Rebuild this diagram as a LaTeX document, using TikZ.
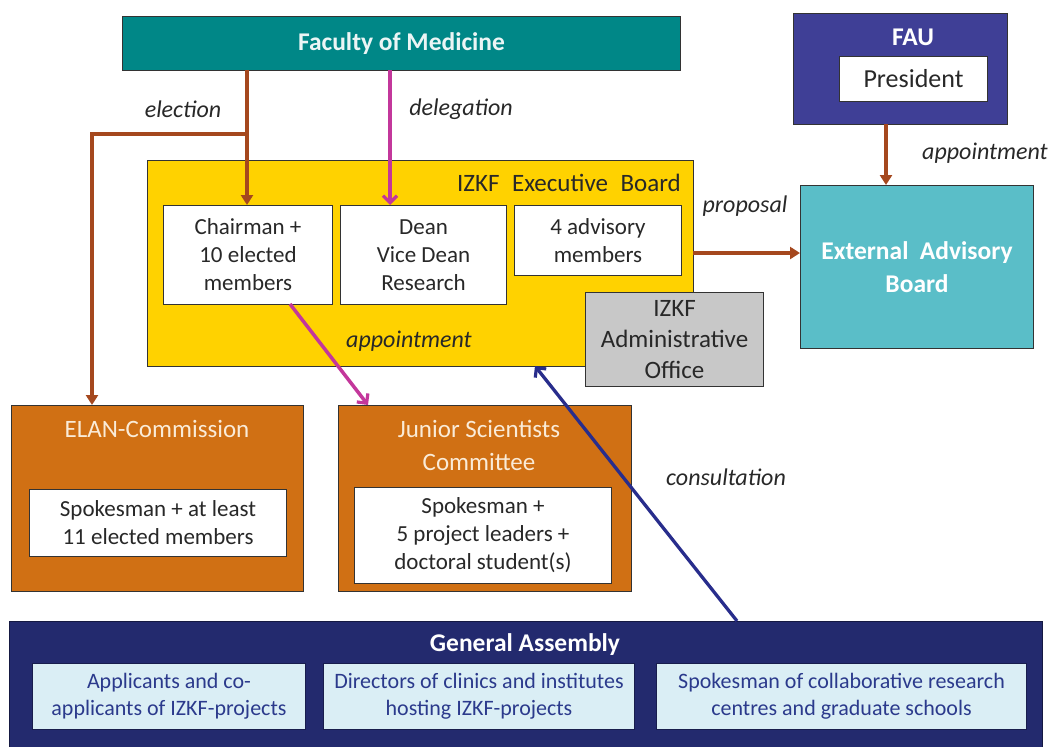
\documentclass[tikz,border=0pt]{standalone}
\usepackage{fontspec}
\setmainfont{Carlito}
\usetikzlibrary{arrows.meta}
\definecolor{teal1}{RGB}{0,135,135}
\definecolor{fau}{RGB}{63,63,150}
\definecolor{extb}{RGB}{90,190,200}
\definecolor{gold}{RGB}{255,210,0}
\definecolor{orng}{RGB}{208,112,20}
\definecolor{navy}{RGB}{35,42,110}
\definecolor{lblue}{RGB}{218,238,245}
\definecolor{gtxt}{RGB}{43,58,140}
\definecolor{brn}{RGB}{165,72,30}
\definecolor{mag}{RGB}{195,55,155}
\definecolor{cons}{RGB}{40,45,140}
\definecolor{greyb}{RGB}{200,200,200}
\definecolor{txt}{RGB}{40,40,40}
\definecolor{ttl}{RGB}{250,235,215}
\tikzset{
  x=1pt,y=-1pt,
  frame/.style={draw=black!80, line width=1pt, anchor=north west, inner sep=0pt, align=center},
  wbox/.style={frame, fill=white, text=txt, font=\fontsize{23}{28}\selectfont},
  gbox/.style={frame, draw=navy!70!black, fill=lblue, text=gtxt, font=\fontsize{22}{27}\selectfont},
  lbl/.style={font=\fontsize{24}{26}\selectfont\itshape, text=txt, inner sep=0pt},
  ttlfont/.style={font=\fontsize{25.5}{33}\selectfont\bfseries},
  brarrow/.style={draw=brn, line width=3.2pt, -{Triangle[length=10pt,width=12pt]}},
  mgarrow/.style={draw=mag, line width=3.5pt, -{Straight Barb[length=7pt,width=14pt,line width=3.2pt]}},
  csarrow/.style={draw=cons, line width=3.3pt, -{Straight Barb[length=7pt,width=14pt,line width=3.2pt]}},
}
\begin{document}
\begin{tikzpicture}
\useasboundingbox (0,0) rectangle (1058,747);
% Faculty of Medicine
\node (fom) [frame, fill=teal1, minimum width=558pt, minimum height=54pt, text=white!92!teal1, ttlfont] at (122,16) {Faculty of Medicine};
% FAU
\node (fau) [frame, fill=fau, minimum width=214pt, minimum height=111pt] at (793,13) {};
\node (fautitle) [text=white, ttlfont, inner sep=0pt] at (913,37) {FAU};
\node (pres) [wbox, minimum width=148pt, minimum height=45pt, font=\fontsize{26}{28}\selectfont] at (839,56) {President};
% External Advisory Board
\node (ext) [frame, fill=extb, minimum width=233pt, minimum height=163pt, text=white, ttlfont] at (800,185) {External\hspace{0.45em}Advisory\\Board};
% Executive board
\node (exec) [frame, fill=gold, minimum width=546pt, minimum height=206pt] at (147,160) {};
\node (exectitle) [anchor=east, inner sep=0pt, text=txt, font=\fontsize{25}{26}\selectfont] at (681,183) {IZKF\hspace{0.5em}Executive\hspace{0.5em}Board};
\node (chair) [wbox, minimum width=169pt, minimum height=99pt] at (163,205) {Chairman +\\10 elected\\members};
\node (dean) [wbox, minimum width=166pt, minimum height=99pt] at (340,205) {Dean\\Vice Dean\\Research};
\node (adv) [wbox, minimum width=167pt, minimum height=70pt] at (514,205) {4 advisory\\members};
\node (office) [frame, fill=greyb, text=txt, minimum width=178pt, minimum height=94pt, font=\fontsize{25}{31}\selectfont] at (585,292) {IZKF\\Administrative\\Office};
% ELAN
\node (elan) [frame, fill=orng, minimum width=292pt, minimum height=186pt] at (11,405) {};
\node (elantitle) [text=ttl, inner sep=0pt, font=\fontsize{25}{26}\selectfont] at (157,429) {ELAN-Commission};
\node (elanin) [wbox, minimum width=257pt, minimum height=67pt] at (29,489) {Spokesman + at least\\11 elected members};
% Junior Scientists
\node (jsc) [frame, fill=orng, minimum width=293pt, minimum height=186pt] at (338,405) {};
\node (jsctitle) [text=ttl, inner sep=0pt, align=center, font=\fontsize{25}{33}\selectfont] at (479,445) {Junior Scientists\\Committee};
\node (jscin) [wbox, minimum width=257pt, minimum height=96pt] at (354,487) {Spokesman +\\5 project leaders +\\doctoral student(s)};
% General Assembly
\node (ga) [frame, draw=navy!60!black, fill=navy, minimum width=1033pt, minimum height=130pt] at (9,621) {};
\node (gatitle) [text=white, inner sep=0pt, ttlfont] at (525,645) {General Assembly};
\node (ga1) [gbox, minimum width=273pt, minimum height=66pt] at (32,663) {Applicants and co-\\applicants of IZKF-projects};
\node (ga2) [gbox, minimum width=311pt, minimum height=66pt] at (323,663) {Directors of clinics and institutes\\hosting IZKF-projects};
\node (ga3) [gbox, minimum width=370pt, minimum height=66pt] at (656,663) {Spokesman of collaborative research\\centres and graduate schools};
% coordinates
\coordinate (elsrc) at (247,70);
\coordinate (elbr) at (247,134);
\coordinate (elcorner) at (92,134);
\coordinate (elanTop) at (92,405);
\coordinate (chTop) at (247,205);
\coordinate (dlsrc) at (390,70);
\coordinate (dnTop) at (390,205);
\coordinate (apsrc) at (290,304);
\coordinate (apdst) at (368,405);
\coordinate (fauBot) at (886,124);
\coordinate (extTop) at (886,185);
\coordinate (prsrc) at (693,253);
\coordinate (prdst) at (800,253);
\coordinate (cssrc) at (737,621);
\coordinate (csdst) at (535,366);
% connectors
\draw[brarrow] (elsrc) -- (chTop);
\draw[brarrow] (elbr) -- (elcorner) -- (elanTop);
\draw[mgarrow] (dlsrc) -- (dnTop);
\draw[mgarrow] (apsrc) -- (apdst);
\draw[brarrow] (fauBot) -- (extTop);
\draw[brarrow] (prsrc) -- (prdst);
\draw[csarrow] (cssrc) -- (csdst);
% labels
\node (lelect) [lbl] at (183,109) {election};
\node (ldeleg) [lbl] at (461,109) {delegation};
\node (lappt) [lbl] at (409,341) {appointment};
\node (lappt2) [lbl] at (985,153) {appointment};
\node (lprop) [lbl] at (745,206) {proposal};
\node (lcons) [lbl] at (726,477) {consultation};
\end{tikzpicture}
\end{document}
